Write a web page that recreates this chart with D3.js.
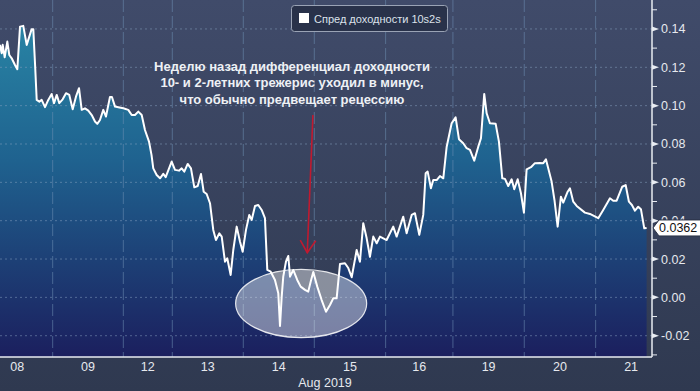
<!DOCTYPE html>
<html>
<head>
<meta charset="utf-8">
<script src="https://cdn.jsdelivr.net/npm/d3@7"></script>
<style>
  html, body { margin: 0; padding: 0; background: #303a53; }
  svg { display: block; font-family: "Liberation Sans", Arial, sans-serif; }
</style>
</head>
<body>
<div id="chart"></div>
<script>
// time in trading-day units from the left edge, value = 10y-2y spread
const times = [0,0.024,0.038,0.066,0.103,0.131,0.165,0.211,0.244,0.282,
  0.328,0.376,0.446,0.469,0.493,0.517,0.554,0.587,0.634,0.680,
  0.728,0.761,0.799,0.835,0.883,0.930,0.976,1.024,1.070,1.113,
  1.151,1.197,1.244,1.292,1.338,1.370,1.408,1.455,1.493,1.549,
  1.577,1.620,1.666,1.737,1.807,1.855,1.901,1.948,1.996,2.042,
  2.099,2.134,2.159,2.207,2.254,2.300,2.334,2.418,2.465,2.521,
  2.559,2.596,2.644,2.690,2.737,2.785,2.831,2.869,2.911,2.958,
  3.004,3.042,3.089,3.123,3.169,3.201,3.249,3.286,3.334,3.380,
  3.418,3.465,3.511,3.545,3.592,3.638,3.686,3.732,3.765,3.813,
  3.873,3.920,3.944,3.968,3.990,4.028,4.061,4.085,4.131,4.187,
  4.235,4.296,4.342,4.376,4.413,4.469,4.531,4.592,4.648,4.694,
  4.742,4.789,4.859,4.906,4.954,5.024,5.070,5.117,5.165,5.211,
  5.258,5.306,5.352,5.446,5.539,5.587,5.680,5.728,5.799,5.845,
  5.906,5.962,5.996,6.024,6.070,6.103,6.151,6.197,6.244,6.292,
  6.362,6.418,6.465,6.525,6.573,6.620,6.680,6.737,6.775,6.821,
  6.855,6.901,6.982,7.028,7.075,7.113,7.159,7.207,7.244,7.292,
  7.338,7.380,7.418,7.479,7.535,7.606,7.652,7.690,7.770,7.810,
  7.855,7.901,7.934,7.996,8.028,8.075,8.123,8.239,8.310,8.427,
  8.497,8.592,8.638,8.686,8.765,8.813,8.859,8.901,8.944,8.990,
  9.028,9.075,9.108];

const spread = [0.1317,0.1273,0.1317,0.1252,0.1334,0.1264,0.1247,0.1212,0.1190,0.1412,
  0.1416,0.1317,0.1399,0.1399,0.1221,0.1030,0.1021,0.1030,0.0992,0.1030,
  0.1061,0.1013,0.1056,0.1013,0.1033,0.1065,0.1056,0.0981,0.1047,0.1091,
  0.0978,0.0986,0.0974,0.0951,0.0917,0.0905,0.0925,0.0978,0.0943,0.1045,
  0.1045,0.0995,0.0992,0.0986,0.0978,0.0951,0.0951,0.0969,0.0951,0.0873,
  0.0812,0.0743,0.0673,0.0638,0.0621,0.0644,0.0627,0.0708,0.0665,0.0661,
  0.0673,0.0656,0.0696,0.0673,0.0574,0.0581,0.0644,0.0551,0.0539,0.0491,
  0.0352,0.0299,0.0334,0.0317,0.0186,0.0204,0.0117,0.0247,0.0369,0.0291,
  0.0238,0.0352,0.0430,0.0404,0.0477,0.0482,0.0456,0.0413,0.0143,0.0134,
  0.0091,0.0021,-0.0149,0.0004,0.0108,0.0186,0.0216,0.0108,0.0143,0.0091,
  0.0056,0.0039,0.0030,0.0082,0.0132,0.0056,-0.0014,-0.0075,-0.0040,-0.0005,
  -0.0005,0.0174,0.0178,0.0153,0.0105,0.0247,0.0186,0.0387,0.0308,0.0212,
  0.0317,0.0282,0.0317,0.0299,0.0369,0.0317,0.0421,0.0334,0.0430,0.0439,
  0.0326,0.0430,0.0647,0.0656,0.0569,0.0612,0.0612,0.0633,0.0621,0.0786,
  0.0908,0.0939,0.0825,0.0804,0.0778,0.0769,0.0713,0.0786,0.0830,0.1061,
  0.0960,0.0908,0.0905,0.0812,0.0621,0.0618,0.0581,0.0616,0.0564,0.0616,
  0.0543,0.0442,0.0668,0.0679,0.0700,0.0701,0.0700,0.0720,0.0604,0.0508,
  0.0369,0.0525,0.0494,0.0551,0.0569,0.0499,0.0477,0.0442,0.0435,0.0413,
  0.0456,0.0517,0.0504,0.0504,0.0577,0.0586,0.0499,0.0482,0.0452,0.0473,
  0.0460,0.0360,0.0362];

const dayLabels = ["08", "09", "12", "13", "14", "15", "16", "19", "20", "21"];
const dayStarts = [-0.258, 0.742, 1.737, 2.427, 3.427, 4.427, 5.432, 6.380, 7.385, 8.390];
const yTicks = [-0.02, 0, 0.02, 0.04, 0.06, 0.08, 0.10, 0.12, 0.14];
const yMinor = [-0.03, -0.01, 0.01, 0.03, 0.05, 0.07, 0.09, 0.11, 0.13, 0.15];
const monthLabel = "Aug 2019";
const legendLabel = "Спред доходности 10s2s";
const noteLines = [
  "Неделю назад дифференциал доходности",
  "10- и 2-летних трежерис уходил в минус,",
  "что обычно предвещает рецессию"
];
// annotation anchors in data units
const arrowFrom = [4.408, 0.0951];
const arrowTo = [4.328, 0.0233];
const ellipseCenter = [4.242, -0.0032];
const ellipseRadius = [0.923, 0.0178];

const W = 700, H = 391;
const plotRight = 652, plotBottom = 357;

const data = times.map((t, i) => ({ t, v: spread[i] }));
const last = data[data.length - 1];

const x = d3.scaleLinear().domain([0, 9.17]).range([0, 651]);
const y = d3.scaleLinear().domain([-0.0311, 0.1551]).range([plotBottom, 0]);

const svg = d3.select("#chart").append("svg")
  .attr("width", W)
  .attr("height", H);

const defs = svg.append("defs");
const bg = defs.append("linearGradient").attr("id", "bg")
  .attr("x1", 0).attr("y1", 0).attr("x2", 0).attr("y2", 1);
bg.append("stop").attr("offset", "0%").attr("stop-color", "#404b6a");
bg.append("stop").attr("offset", "100%").attr("stop-color", "#2f3950");

const fill = defs.append("linearGradient").attr("id", "fill")
  .attr("gradientUnits", "userSpaceOnUse")
  .attr("x1", 0).attr("y1", 0).attr("x2", 0).attr("y2", plotBottom);
fill.append("stop").attr("offset", "0%").attr("stop-color", "#2a8aa8");
fill.append("stop").attr("offset", "45%").attr("stop-color", "#1f628f");
fill.append("stop").attr("offset", "100%").attr("stop-color", "#1b1f5e");

svg.append("rect").attr("width", W).attr("height", H).attr("fill", "url(#bg)");

// area under the spread line
svg.append("path")
  .datum(data)
  .attr("fill", "url(#fill)")
  .attr("d", d3.area().x(d => x(d.t)).y0(plotBottom).y1(d => y(d.v)));

// grid
svg.append("g").selectAll("line")
  .data(yTicks)
  .join("line")
  .attr("x1", 0).attr("x2", plotRight)
  .attr("y1", d => y(d)).attr("y2", d => y(d))
  .attr("stroke", "#8aa3c2")
  .attr("stroke-opacity", 0.5)
  .attr("stroke-dasharray", "2,3");

svg.append("g").selectAll("line")
  .data(dayStarts.filter(d => d > 0))
  .join("line")
  .attr("x1", d => x(d)).attr("x2", d => x(d))
  .attr("y1", 0).attr("y2", plotBottom)
  .attr("stroke", "#6f8fb4")
  .attr("stroke-opacity", 0.55)
  .attr("stroke-dasharray", "12,4");

// highlighted zone
svg.append("ellipse")
  .attr("cx", x(ellipseCenter[0]))
  .attr("cy", y(ellipseCenter[1]))
  .attr("rx", x(ellipseRadius[0]) - x(0))
  .attr("ry", y(0) - y(ellipseRadius[1]))
  .attr("fill", "#ffffff")
  .attr("fill-opacity", 0.42)
  .attr("stroke", "#ffffff")
  .attr("stroke-opacity", 0.85)
  .attr("stroke-width", 1.2);

svg.append("path")
  .datum(data)
  .attr("fill", "none")
  .attr("stroke", "#ffffff")
  .attr("stroke-width", 2)
  .attr("stroke-linejoin", "round")
  .attr("d", d3.line().x(d => x(d.t)).y(d => y(d.v)));

// axes lines
svg.append("line")
  .attr("x1", 0).attr("x2", plotRight)
  .attr("y1", plotBottom).attr("y2", plotBottom)
  .attr("stroke", "#e8ecf2").attr("stroke-width", 1.5);
svg.append("line")
  .attr("x1", plotRight).attr("x2", plotRight)
  .attr("y1", 0).attr("y2", plotBottom)
  .attr("stroke", "#e8ecf2").attr("stroke-width", 1.5);

// right axis ticks
const ry = svg.append("g");
ry.selectAll("path.major")
  .data(yTicks)
  .join("path")
  .attr("class", "major")
  .attr("d", d => `M${plotRight},${y(d) - 2.5}L${plotRight + 7},${y(d)}L${plotRight},${y(d) + 2.5}Z`)
  .attr("fill", "#e8ecf2");
ry.selectAll("line.minor")
  .data(yMinor.filter(d => y(d) >= 0 && y(d) <= plotBottom))
  .join("line")
  .attr("class", "minor")
  .attr("x1", plotRight).attr("x2", plotRight + 5)
  .attr("y1", d => y(d)).attr("y2", d => y(d))
  .attr("stroke", "#e8ecf2");
ry.selectAll("text")
  .data(yTicks)
  .join("text")
  .attr("x", plotRight + 9)
  .attr("y", d => y(d))
  .attr("dy", "0.36em")
  .attr("fill", "#e6e9ee")
  .style("font-size", "12.5px")
  .text(d => d3.format(".2f")(d).replace("−", "-"));

// last value tag
const ly = y(last.v);
svg.append("path")
  .attr("d", `M${plotRight + 1},${ly}L${plotRight + 7},${ly - 8}L${W + 2},${ly - 8}L${W + 2},${ly + 8}L${plotRight + 7},${ly + 8}Z`)
  .attr("fill", "#ffffff")
  .attr("stroke", "#2b3346");
svg.append("text")
  .attr("x", plotRight + 7)
  .attr("y", ly)
  .attr("dy", "0.36em")
  .attr("fill", "#111")
  .style("font-size", "12.5px")
  .text(d3.format(".4f")(last.v));

// day labels
svg.append("g").selectAll("text")
  .data(dayLabels)
  .join("text")
  .attr("x", (d, i) => x(i < dayStarts.length - 1 ? (dayStarts[i] + dayStarts[i + 1]) / 2 : dayStarts[i] + 0.5))
  .attr("y", 371)
  .attr("text-anchor", "middle")
  .attr("fill", "#e6e9ee")
  .style("font-size", "12.5px")
  .text(d => d);

svg.append("text")
  .attr("x", 325)
  .attr("y", 387)
  .attr("text-anchor", "middle")
  .attr("fill", "#e6e9ee")
  .style("font-size", "12.5px")
  .text(monthLabel);

// legend
const lg = svg.append("g");
lg.append("rect")
  .attr("x", 291.5).attr("y", 5.5)
  .attr("width", 156).attr("height", 26).attr("rx", 3)
  .attr("fill", "#29324a")
  .attr("stroke", "#9aa3b5");
lg.append("rect")
  .attr("x", 299).attr("y", 13)
  .attr("width", 10).attr("height", 10)
  .attr("fill", "#ffffff");
lg.append("text")
  .attr("x", 314).attr("y", 22.5)
  .attr("fill", "#dde2ea")
  .style("font-size", "11px")
  .text(legendLabel);

// annotation
svg.append("g").selectAll("text")
  .data(noteLines)
  .join("text")
  .attr("x", 292)
  .attr("y", (d, i) => 71 + i * 16.3)
  .attr("text-anchor", "middle")
  .attr("fill", "#eef1f5")
  .style("font-size", "13px")
  .style("font-weight", "bold")
  .text(d => d);

const ax0 = x(arrowFrom[0]), ay0 = y(arrowFrom[1]);
const ax1 = x(arrowTo[0]), ay1 = y(arrowTo[1]);
const arrow = svg.append("g")
  .attr("stroke", "#c01a30")
  .attr("stroke-width", 1.6)
  .attr("fill", "none");
arrow.append("line")
  .attr("x1", ax0).attr("y1", ay0)
  .attr("x2", ax1).attr("y2", ay1);
arrow.append("path")
  .attr("d", `M${ax1 - 7},${ay1 - 12.5}L${ax1},${ay1}L${ax1 + 8.5},${ay1 - 12}`);
</script>
</body>
</html>
